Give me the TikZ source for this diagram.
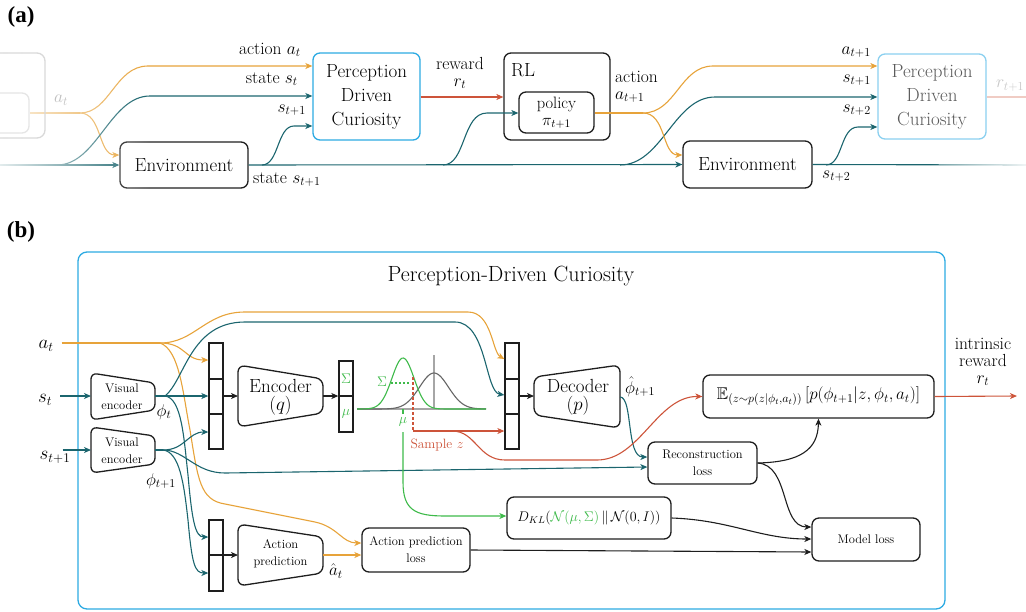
\RequirePackage{fix-cm}
\documentclass[tikz,border=0pt]{standalone}
\usepackage{amsmath,amssymb}
\usepackage{fontspec}
\newfontfamily\labfont{Liberation Serif}
\usetikzlibrary{arrows.meta,fadings}
\definecolor{orgC}{RGB}{231,163,58}
\definecolor{tealC}{RGB}{27,101,110}
\definecolor{redC}{RGB}{205,84,58}
\definecolor{grnC}{RGB}{62,186,74}
\definecolor{bluC}{RGB}{44,170,226}
\definecolor{dk}{RGB}{30,30,30}
\newcommand{\myfs}[2]{\fontsize{#1}{#2}\selectfont}
\tikzfading[name=fadeleft, left color=transparent!12, right color=transparent!100]
\tikzfading[name=faderight, left color=transparent!100, right color=transparent!10]
\tikzset{
  con/.style={line width=1.1pt},
  arr/.style={line width=1.1pt,-{Stealth[length=7pt,width=6pt,inset=2pt]}},
  bx/.style={draw=dk, line width=1.3pt, rounded corners=7pt, inner sep=0pt, align=center},
  shp/.style={draw=dk, line width=1.3pt, rounded corners=7pt},
  blk/.style={draw=dk, line width=1.3pt, inner sep=0pt, minimum width=14pt},
  lab/.style={inner sep=0pt, font=\myfs{17.5}{19}},
  mlab/.style={inner sep=0pt, font=\myfs{19}{20}},
  txt/.style={inner sep=0pt, align=center},
  big/.style={font=\myfs{19}{24}},
  small/.style={font=\myfs{12.5}{17}},
}
\begin{document}
\begin{tikzpicture}[x=1pt,y=-1pt]
\useasboundingbox (0,0) rectangle (1026,611);

% ---------------- (a) ----------------
\node[inner sep=0pt, font=\labfont\bfseries\myfs{23}{24}] (la) at (21,17) {(a)};

\node[bx, big, draw=bluC, minimum width=107pt, minimum height=87pt] (pdc1) at (366.5,96.5) {Perception\\Driven\\Curiosity};
\node[bx, minimum width=106pt, minimum height=87pt] (rl) at (557,96.5) {};
\node[inner sep=0pt, anchor=west, font=\myfs{19}{20}] (rllab) at (511,70) {RL};
\node[bx, minimum width=75pt, minimum height=41pt, font=\myfs{16.5}{18}] (pol) at (556.5,112.5) {policy\\[-1pt]$\pi_{t+1}$};
\node[bx, big, minimum width=128pt, minimum height=46pt] (env1) at (184,165) {Environment};
\node[bx, big, minimum width=129pt, minimum height=47pt] (env2) at (747.5,164.5) {Environment};
\node[bx, big, draw=bluC!55, text=black!65, minimum width=108pt, minimum height=85pt] (pdc2) at (932,96.5) {Perception\\Driven\\Curiosity};

% orange a_t
\coordinate (sa) at (80,113);
\draw[con,orgC] (30,113) -- (sa);
\draw[arr,orgC] (sa) .. controls (110,113) and (115,66) .. (148,66) -- (pdc1.west|-0,66);
\draw[arr,orgC] (sa) .. controls (102,113) and (98,155) .. (env1.west|-0,155);
% teal main line
\coordinate (t0) at (0,165);
\draw[arr,tealC] (t0) -- (env1.west);
\draw[arr,tealC] (57,165) .. controls (97,165) and (110,96) .. (150,96) -- (pdc1.west|-0,96);
\draw[arr,tealC] (env1.east) -- (env2.west);
\coordinate (tend) at (1026,165);
\draw[con,tealC] (env2.east) -- (tend);
\draw[arr,tealC] (262,165) .. controls (279,165) and (277,126) .. (294,126) -- (pdc1.west|-0,126);
\draw[arr,tealC] (443,165) .. controls (466,165) and (462,113) .. (487,113) -- (pol.west|-0,113);
\draw[arr,tealC] (620,165) .. controls (662,165) and (674,97) .. (715,97) -- (pdc2.west|-0,97);
\draw[arr,tealC] (826,165) .. controls (843,165) and (840,127) .. (858,127) -- (pdc2.west|-0,127);
% reward
\draw[arr,redC] (pdc1.east|-0,97) -- (rl.west|-0,97);
\draw[con,redC!30] (pdc2.east|-0,97) -- (1026,97);
% orange a_{t+1}
\coordinate (sb) at (643,113);
\draw[con,orgC] (pol.east|-0,113) -- (sb);
\draw[arr,orgC] (sb) .. controls (676,113) and (680,66) .. (713,66) -- (pdc2.west|-0,66);
\draw[arr,orgC] (sb) .. controls (666,113) and (662,155) .. (env2.west|-0,155);

% labels (a)
\node[lab, anchor=base east] (l1) at (301,54) {action $a_t$};
\node[lab, anchor=base east] (l2) at (298,83) {state $s_t$};
\node[lab, anchor=base east] (l3) at (306,112) {$s_{t+1}$};
\node[lab, anchor=base west] (l4) at (253,183) {state $s_{t+1}$};
\node[txt, font=\myfs{17.5}{17}] (l5) at (460,73) {reward\\$r_t$};
\node[txt, align=left, anchor=west, font=\myfs{17.5}{17}] (l6) at (615,87) {action\\$a_{t+1}$};
\node[lab, anchor=base east] (l7) at (871,54) {$a_{t+1}$};
\node[lab, anchor=base east] (l8) at (871,82) {$s_{t+1}$};
\node[lab, anchor=base east] (l9) at (871,112) {$s_{t+2}$};
\node[lab, anchor=base west] (l10) at (822,178) {$s_{t+2}$};

% fades
\fill[white, path fading=fadeleft] (0,40) rectangle (150,200);
\fill[white, path fading=faderight] (930,150) rectangle (1026,180);
% ghost elements
\draw[black!15, line width=1.3pt, rounded corners=8pt] (-20,53) rectangle (45,138);
\draw[black!10, line width=1.3pt, rounded corners=7pt] (-20,93) rectangle (29,133);
\node[lab, text=black!25] (gat) at (61,100) {$a_t$};
\node[lab, text=black!22, anchor=west] (grt) at (996,86) {$r_{t+1}$};

% ---------------- (b) ----------------
\node[inner sep=0pt, font=\labfont\bfseries\myfs{23}{24}] (lb) at (21,232) {(b)};
\node[draw=bluC, line width=1.3pt, rounded corners=9pt, minimum width=867pt, minimum height=357pt, inner sep=0pt] (frame) at (511.5,430.5) {};
\node[txt, font=\myfs{22}{24}] (title) at (511,276) {Perception-Driven Curiosity};

% inputs
\node[mlab] (inA) at (46,346) {$a_t$};
\node[mlab] (inS) at (45,400) {$s_t$};
\node[mlab] (inS1) at (55,457) {$s_{t+1}$};

% visual encoders
\draw[shp, rounded corners=6pt] (91,373) -- (155,383) -- (155,410) -- (91,420) -- cycle;
\node[txt, small] (ve1) at (122,397) {Visual\\encoder};
\draw[shp, rounded corners=6pt] (91,427) -- (155,436) -- (155,464) -- (91,473) -- cycle;
\node[txt, small] (ve2) at (122,451) {Visual\\encoder};
\node[mlab, font=\myfs{17}{18}] (phit) at (164,412) {$\phi_t$};
\node[mlab, font=\myfs{17}{18}] (phit1) at (161,481) {$\phi_{t+1}$};

% concat blocks
\node[blk, minimum height=106pt] (b1) at (216,396) {};
\draw[dk, line width=1.3pt] (b1.west|-0,379) -- (b1.east|-0,379) (b1.west|-0,414) -- (b1.east|-0,414);
\node[blk, minimum height=106pt] (b2) at (512,396) {};
\draw[dk, line width=1.3pt] (b2.west|-0,379) -- (b2.east|-0,379) (b2.west|-0,414) -- (b2.east|-0,414);
\node[blk, minimum height=71pt] (b3) at (216,555.5) {};
\draw[dk, line width=1.3pt] (b3.west|-0,555) -- (b3.east|-0,555);
\node[blk, minimum height=71pt] (sm) at (346,396.5) {};
\draw[dk, line width=1.3pt] (sm.west|-0,396) -- (sm.east|-0,396);
\node[inner sep=0pt, text=grnC, font=\myfs{14}{14}] (smS) at (346,379) {$\Sigma$};
\node[inner sep=0pt, text=grnC, font=\myfs{14}{14}] (smM) at (346,414) {$\mu$};

% encoder / decoder / action prediction shapes
\draw[shp] (238,365) -- (323,379) -- (323,413) -- (238,427) -- cycle;
\node[txt, font=\myfs{19}{18}] (enc) at (280.5,397) {Encoder\\$(q)$};
\draw[shp] (534,377) -- (620,365) -- (620,428) -- (534,415) -- cycle;
\node[txt, font=\myfs{19}{18}] (dec) at (578,397) {Decoder\\$(p)$};
\draw[shp] (238,524) -- (323,537) -- (323,573) -- (238,586) -- cycle;
\node[txt, small] (ap) at (280.5,554) {Action\\prediction};

% boxes
\node[bx, minimum width=231pt, minimum height=43pt, font=\myfs{17}{18}] (ebox) at (818.5,396.5) {$\mathbb{E}_{(z\sim p(z|\phi_t,a_t))}\left[p(\phi_{t+1}|z,\phi_t,a_t)\right]$};
\node[bx, small, minimum width=109pt, minimum height=42pt] (recon) at (702.5,463) {Reconstruction\\loss};
\node[bx, minimum width=164pt, minimum height=42pt, font=\myfs{14}{16}] (dkl) at (589,518) {$D_{KL}(\textcolor{grnC}{\mathcal{N}(\mu,\Sigma)}\,\|\,\mathcal{N}(0,I))$};
\node[bx, small, minimum width=108pt, minimum height=43pt] (model) at (866,539.5) {Model loss};
\node[bx, small, minimum width=108pt, minimum height=44pt] (apl) at (416,550) {Action prediction\\loss};
\node[txt, font=\myfs{17.5}{17}] (ir) at (983,362) {intrinsic\\reward\\$r_t$};

% gaussian plot
\draw[black!35, line width=1.1pt] (357,409) -- (486,409);
\draw[black!35, line width=1.1pt] (434,355) -- (434,409);
\draw[black!60, line width=1.1pt] plot[domain=357:486, samples=90, smooth, variable=\x] (\x, {409-36*exp(-((\x-434)/14.5)^2/2)});
\draw[grnC, line width=1.1pt] plot[domain=357:486, samples=90, smooth, variable=\x] (\x, {409-51*exp(-((\x-403)/11)^2/2)});
\node[inner sep=0pt, text=grnC, font=\myfs{14}{14}] (gS) at (382,382) {$\Sigma$};
\draw[grnC, line width=1.2pt, dash pattern=on 1.5pt off 2.5pt] (391,383) -- (410,383);
\draw[con, grnC] (403,409) -- (403,414);
\node[inner sep=0pt, text=grnC, font=\myfs{14}{14}] (gM) at (403,422) {$\mu$};
\node[inner sep=0pt, text=redC, font=\myfs{13.5}{14}] (samp) at (437,445) {Sample $z$};

% orange connectors
\coordinate (oa) at (160,343);
\draw[con,orgC] (inA.east|-0,343) ++(8,0) -- (oa);
\draw[arr,orgC] (oa) .. controls (195,343) and (205,312) .. (245,312) -- (468,312) .. controls (492,312) and (492,352) .. (b2.west|-0,359);
\draw[arr,orgC] (oa) .. controls (186,343) and (184,360) .. (b1.west|-0,360);
\draw[arr,orgC] (oa) .. controls (180,350) and (183,395) .. (190,430) .. controls (198,480) and (200,500) .. (225,504) -- (315,522) .. controls (338,527) and (342,543) .. (apl.west|-0,543);
\draw[arr,orgC] (323,555) -- (apl.west|-0,555);

% teal connectors
\draw[arr,tealC] (inS.east|-0,396) ++(8,0) -- (91,396);
\draw[arr,tealC] (inS1.east|-0,450) ++(-8,0) -- (91,450);
\coordinate (pt) at (165,396);
\draw[con,tealC] (155,396) -- (pt);
\draw[arr,tealC] (pt) -- (b1.west|-0,396);
\draw[arr,tealC] (pt) .. controls (185,380) and (190,322) .. (245,322) -- (455,322) .. controls (487,322) and (485,392) .. (b2.west|-0,395);
\draw[arr,tealC] (pt) .. controls (182,398) and (184,440) .. (188,475) .. controls (192,520) and (195,537) .. (b3.west|-0,537);
\coordinate (pn) at (163,450);
\draw[con,tealC] (155,450) -- (pn);
\draw[arr,tealC] (pn) .. controls (185,450) and (188,432) .. (b1.west|-0,432);
\draw[arr,tealC] (pn) .. controls (185,450) and (195,473) .. (225,473) -- (recon.west|-0,467);
\draw[arr,tealC] (pn) .. controls (180,452) and (184,485) .. (188,520) .. controls (192,565) and (195,573) .. (b3.west|-0,573);
\draw[arr,tealC] (620,397) .. controls (633,397) and (626,457) .. (recon.west|-0,457);

% red connectors
\draw[con, redC, dash pattern=on 3pt off 2pt] (413,377) -- (413,431);
\draw[arr, redC] (413,431) -- (b2.west|-0,431);
\draw[arr, redC] (452,431) .. controls (476,431) and (478,460) .. (505,460) -- (597,460) .. controls (640,460) and (657,396) .. (ebox.west);
\draw[arr, redC] (ebox.east) -- (1017,396);

% green connector
\draw[arr, grnC] (403,432) -- (403,482) .. controls (403,510) and (415,516) .. (445,516) -- (dkl.west|-0,516);

% black connectors
\draw[arr,dk] (b1.east|-0,396) -- (238,396);
\draw[arr,dk] (323,396) -- (sm.west|-0,396);
\draw[arr,dk] (b2.east|-0,396) -- (534,396);
\draw[arr,dk] (b3.east|-0,555) -- (238,555);
\draw[arr,dk] (recon.east|-0,463) .. controls (800,462) and (818,450) .. (ebox.south);
\draw[arr,dk] (recon.east|-0,463) .. controls (790,465) and (780,527) .. (model.west|-0,527);
\draw[arr,dk] (dkl.east|-0,518) .. controls (730,520) and (760,539) .. (model.west|-0,539);
\draw[arr,dk] (apl.east) -- (model.west|-0,552);

% labels (b)
\node[inner sep=0pt, font=\myfs{17}{18}, anchor=west] (phh) at (625,387) {$\hat{\phi}_{t+1}$};
\node[inner sep=0pt, font=\myfs{17}{18}] (ahat) at (336,571) {$\hat{a}_t$};
\end{tikzpicture}
\end{document}
